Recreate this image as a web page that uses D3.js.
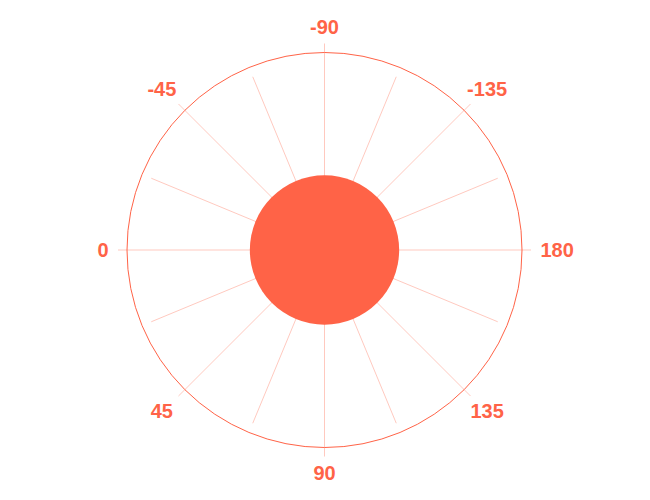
<!DOCTYPE html>
<html>
<head>
<meta charset="utf-8">
<script src="https://cdn.jsdelivr.net/npm/d3@7"></script>
<style>
  html, body { margin: 0; padding: 0; background: #fff; }
  svg { display: block; }
  text { font-family: "Liberation Sans", Arial, Helvetica, sans-serif; }
</style>
</head>
<body>
<div id="chart"></div>
<script>
// ---- data ----
const spokeAngles = [0, 22.5, 45, 67.5, 90, 112.5, 135, 157.5, 180, 202.5, 225, 247.5, 270, 292.5, 315, 337.5];
const labelAngles = [0, 45, 90, 135, 180, -135, -90, -45];
const labelTexts  = ["0", "45", "90", "135", "180", "-135", "-90", "-45"];
const centerValue = [0.378];   // radial value of the filled disc (domain 0..1)

// ---- layout ----
const W = 650, H = 500;
const cx = 324.5, cy = 250, R = 197.5;
const color = "#ff6347";

const svg = d3.select("#chart").append("svg").attr("width", W).attr("height", H);
const g = svg.append("g").attr("transform", `translate(${cx},${cy})`);

const rScale = d3.scaleLinear().domain([0, 1]).range([0, R]);
// angle in degrees -> screen radians: 0 at left, 90 at bottom, -90 at top
const aScale = d3.scaleLinear().domain([0, 360]).range([Math.PI, -Math.PI]);
const px = (deg, r) => r * Math.cos(aScale(deg));
const py = (deg, r) => r * Math.sin(aScale(deg));

// spokes
g.selectAll("line.spoke").data(spokeAngles).join("line")
  .attr("class", "spoke")
  .attr("x1", 0).attr("y1", 0)
  .attr("x2", d => px(d, (d % 45 === 0) ? R + 9 : R - 10))
  .attr("y2", d => py(d, (d % 45 === 0) ? R + 9 : R - 10))
  .attr("stroke", color).attr("stroke-opacity", 0.35).attr("stroke-width", 1);

// outer circle
g.append("circle").attr("r", rScale(1)).attr("fill", "none")
  .attr("stroke", color).attr("stroke-width", 1);

// central disc
g.selectAll("circle.disc").data(centerValue).join("circle")
  .attr("class", "disc")
  .attr("r", d => rScale(d)).attr("fill", color);

// labels
const labels = g.selectAll("text.lab").data(labelAngles).join("text")
  .attr("class", "lab")
  .attr("fill", color)
  .style("font-size", "20px")
  .style("font-weight", "bold")
  .attr("dy", "0.35em")
  .text((d, i) => labelTexts[i]);

labels.each(function(d) {
  const t = d3.select(this);
  const c = Math.cos(aScale(d)), s = Math.sin(aScale(d));
  const h = 14;
  let x, y, anchor = "middle";
  if (Math.abs(c) > 0.99) {
    x = px(d, 216); y = py(d, 216);
    anchor = c > 0 ? "start" : "end";
  } else if (Math.abs(s) > 0.99) {
    x = px(d, 216); y = py(d, 216) + s * h / 2;
  } else {
    x = px(d, 230); y = py(d, 228);
  }
  t.attr("x", x).attr("y", y).attr("text-anchor", anchor);
});
</script>
</body>
</html>
